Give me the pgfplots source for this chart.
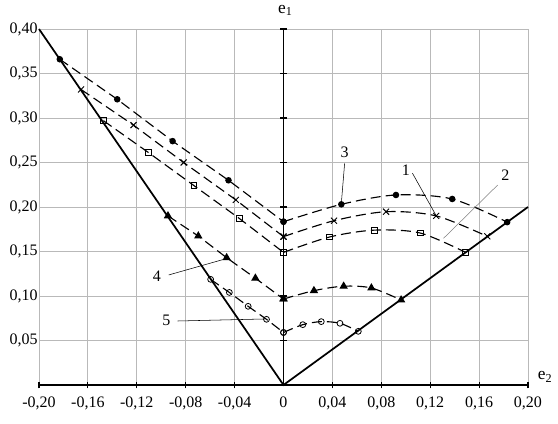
\documentclass[border=0pt]{standalone}
\usepackage{pgfplots}
\pgfplotsset{compat=1.18}
\usepackage{fontspec}
\setmainfont{Liberation Serif}
\begin{document}
\begin{tikzpicture}
\useasboundingbox (0,0) rectangle (418.5pt,318pt);
% background axis: grid, frame, tick labels
\begin{axis}[
  at={(29.25pt,29.25pt)}, anchor=south west,
  scale only axis, width=366.75pt, height=267pt,
  xmin=-0.2, xmax=0.2, ymin=0, ymax=0.4,
  xtick={-0.2,-0.16,-0.12,-0.08,-0.04,0,0.04,0.08,0.12,0.16,0.2},
  xticklabels={{-0,20},{-0,16},{-0,12},{-0,08},{-0,04},{0},{0,04},{0,08},{0,12},{0,16},{0,20}},
  ytick={0.05,0.1,0.15,0.2,0.25,0.3,0.35,0.4},
  yticklabels={{0,05},{0,10},{0,15},{0,20},{0,25},{0,30},{0,35},{0,40}},
  grid=major, grid style={gray!55, line width=0.6pt},
  axis line style={gray!55, line width=0.6pt},
  major tick length=0pt,
  xticklabel style={yshift=-5pt},
  yticklabel style={xshift=2.5pt},
  tick label style={font=\fontsize{12}{14}\selectfont},
]
\end{axis}
% foreground axis: black axes through origin, data
\begin{axis}[
  at={(29.25pt,29.25pt)}, anchor=south west,
  scale only axis, width=366.75pt, height=267pt,
  xmin=-0.2, xmax=0.2, ymin=0, ymax=0.4,
  axis lines=middle,
  axis line style={black, line width=1.2pt, -},
  xtick={-0.2,-0.16,-0.12,-0.08,-0.04,0,0.04,0.08,0.12,0.16,0.2},
  ytick={0.05,0.1,0.15,0.2,0.25,0.3,0.35,0.4},
  xticklabels={}, yticklabels={},
  tick align=center, major tick length=5pt,
  tick style={black, line width=0.8pt},
  clip=false,
  dashline/.style={black, line width=0.85pt, dash pattern=on 7.5pt off 3.8pt},
]
% solid boundary lines
\addplot[black, line width=1.3pt] coordinates {(-0.2,0.4) (0,0) (0.2,0.2)};
% series 3 (filled circles)
\addplot[dashline, mark=*, mark size=2pt, mark options={solid, fill=black}] coordinates {(-0.183,0.366) (-0.136,0.321) (-0.0907,0.274) (-0.045,0.230) (0,0.1835)};
\addplot[dashline, smooth, mark=*, mark size=2pt, mark options={solid, fill=black}] coordinates {(0,0.1835) (0.0473,0.203) (0.092,0.2135) (0.138,0.209) (0.183,0.183)};
% series 1 (crosses)
\addplot[dashline, mark=x, mark size=3.2pt, mark options={solid, line width=0.7pt}] coordinates {(-0.1656,0.332) (-0.1227,0.292) (-0.0817,0.250) (-0.039,0.208) (0,0.1667)};
\addplot[dashline, smooth, mark=x, mark size=3.2pt, mark options={solid, line width=0.7pt}] coordinates {(0,0.1667) (0.0413,0.1846) (0.0839,0.1947) (0.1249,0.19) (0.1667,0.167)};
% series 2 (squares)
\addplot[dashline, mark=square, mark size=2.2pt, mark options={solid, line width=0.7pt}] coordinates {(-0.1473,0.297) (-0.1107,0.2614) (-0.0732,0.224) (-0.0363,0.1873) (0,0.149)};
\addplot[dashline, smooth, mark=square, mark size=2.2pt, mark options={solid, line width=0.7pt}] coordinates {(0,0.149) (0.0377,0.1663) (0.0743,0.174) (0.1117,0.1708) (0.149,0.149)};
% series 4 (filled triangles)
\addplot[dashline, mark=triangle*, mark size=2.8pt, mark options={solid, fill=black}] coordinates {(-0.0945,0.190) (-0.0697,0.1674) (-0.0465,0.143) (-0.023,0.12) (0,0.0966)};
\addplot[dashline, smooth, mark=triangle*, mark size=2.8pt, mark options={solid, fill=black}] coordinates {(0,0.0966) (0.0249,0.106) (0.0492,0.111) (0.0719,0.109) (0.0962,0.0955)};
% series 5 (open circles)
\addplot[dashline, mark=o, mark size=2.2pt, mark options={solid, line width=0.6pt}] coordinates {(-0.0596,0.1187) (-0.0443,0.104) (-0.0289,0.0884) (-0.0139,0.0738) (0,0.059)};
\addplot[dashline, smooth, mark=o, mark size=2.2pt, mark options={solid, line width=0.6pt}] coordinates {(0,0.059) (0.0158,0.0678) (0.0309,0.0712) (0.0462,0.0693) (0.0612,0.0603)};
% labels and leader lines
\draw[black, line width=0.4pt] (axis cs:0.05,0.249) -- (axis cs:0.0473,0.204);
\node[font=\fontsize{12}{14}\selectfont] at (axis cs:0.05,0.261) {3};
\draw[black, line width=0.4pt] (axis cs:0.1055,0.2379) -- (axis cs:0.1246,0.191);
\node[font=\fontsize{12}{14}\selectfont] at (axis cs:0.1,0.2408) {1};
\draw[gray, line width=0.4pt] (axis cs:0.1752,0.2247) -- (axis cs:0.1309,0.1648);
\node[font=\fontsize{12}{14}\selectfont] at (axis cs:0.1814,0.236) {2};
\draw[black, line width=0.4pt] (axis cs:-0.094,0.1236) -- (axis cs:-0.0457,0.1424);
\node[font=\fontsize{12}{14}\selectfont] at (axis cs:-0.1035,0.1225) {4};
\draw[black, line width=0.4pt] (axis cs:-0.0866,0.0719) -- (axis cs:-0.0148,0.0742);
\node[font=\fontsize{12}{14}\selectfont] at (axis cs:-0.0959,0.0722) {5};
% axis names
\node[font=\fontsize{13}{15}\selectfont] at (axis cs:0.0015,0.421) {e\textsubscript{1}};
\node[font=\fontsize{13}{15}\selectfont] at (axis cs:0.214,0.009) {e\textsubscript{2}};
\end{axis}
\end{tikzpicture}
\end{document}
